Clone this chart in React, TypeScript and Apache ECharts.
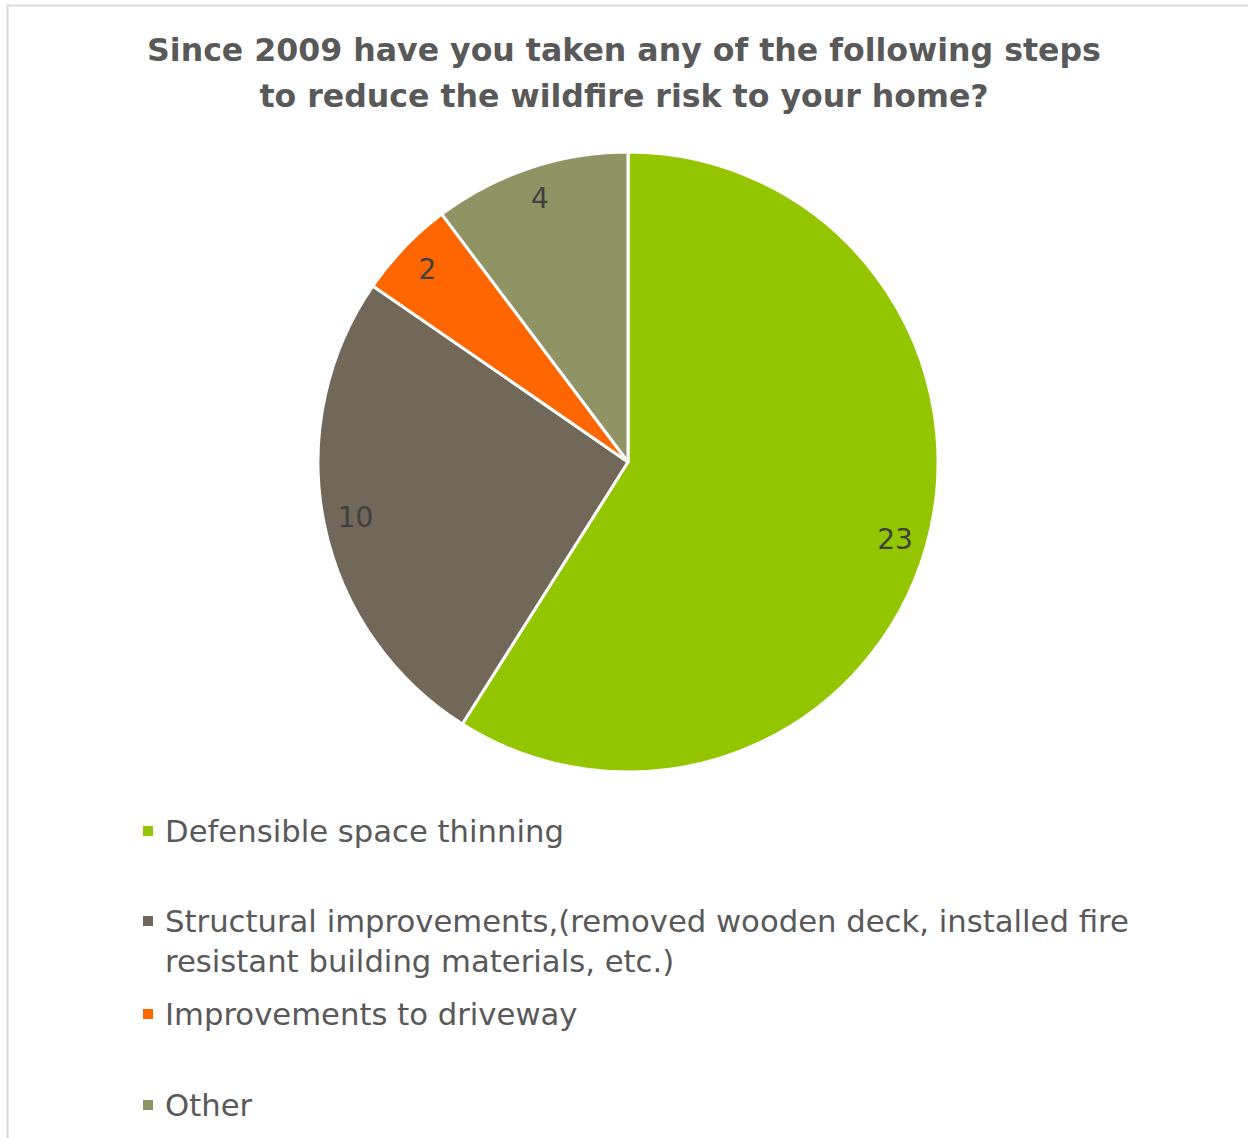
import React, { useEffect, useRef } from "react";
import * as echarts from "echarts";

const categories = [
  "Defensible space thinning",
  "Structural improvements,(removed wooden deck, installed fire resistant building materials, etc.)",
  "Improvements to driveway",
  "Other",
];
const values = [23, 10, 2, 4];
const colors = ["#94C600", "#71685A", "#FF6600", "#909465"];
const titleText = "Since 2009 have you taken any of the following steps\nto reduce the wildfire risk to your home?";
const legendTops = [806, 856, 989, 1080];

const FONT = "DejaVu Sans";

export default function App() {
  const ref = useRef<HTMLDivElement>(null);
  useEffect(() => {
    const chart = echarts.init(ref.current!, null, { renderer: "svg" });
    const data = categories.map((name, i) => ({ name, value: values[i], itemStyle: { color: colors[i] } }));
    const legends = categories.map((name, i) => ({
      data: [name],
      orient: "vertical" as const,
      left: 138,
      top: legendTops[i],
      icon: "rect",
      itemWidth: 10,
      itemHeight: 10,
      itemGap: 0,
      selectedMode: false,
      itemStyle: { borderWidth: 0 },
      formatter: (n: string) =>
        n.startsWith("Structural")
          ? "\nStructural improvements,(removed wooden deck, installed fire\nresistant building materials, etc.)"
          : n,
      textStyle: {
        fontFamily: FONT,
        fontSize: 30.7,
        color: "#595959",
        lineHeight: 40,
        padding: [0, 0, 0, 7],
      },
    }));
    chart.setOption({
      animation: false,
      backgroundColor: "#ffffff",
      title: {
        text: titleText,
        left: "center",
        top: 22,
        textStyle: { fontFamily: FONT, fontSize: 31.6, fontWeight: "bold", color: "#595959", lineHeight: 46 },
      },
      legend: legends,
      graphic: [
        {
          type: "rect",
          shape: { x: 7.5, y: 5.5, width: 1400, height: 1400 },
          style: { fill: "none", stroke: "#d9d9d9", lineWidth: 2 },
          silent: true,
        },
      ],
      series: [
        {
          type: "pie",
          center: [628, 462],
          radius: [0, 310],
          startAngle: 90,
          clockwise: true,
          data,
          label: { show: false },
          labelLine: { show: false },
          itemStyle: { borderColor: "#ffffff", borderWidth: 3 },
          emphasis: { disabled: true },
          silent: true,
        },
        {
          type: "pie",
          center: [628, 462],
          radius: [0, 550],
          startAngle: 90,
          clockwise: true,
          data: categories.map((name, i) => ({ name: name + " ", value: values[i] })),
          itemStyle: { color: "rgba(0,0,0,0)" },
          label: {
            show: true,
            position: "inside",
            formatter: "{c}",
            fontFamily: FONT,
            fontSize: 28,
            color: "#404040",
          },
          labelLine: { show: false },
          emphasis: { disabled: true },
          silent: true,
          z: 5,
        },
      ],
    });
    return () => chart.dispose();
  }, []);
  return <div ref={ref} style={{ position: "fixed", left: 0, top: 0, width: 1248, height: 1138 }} />;
}
